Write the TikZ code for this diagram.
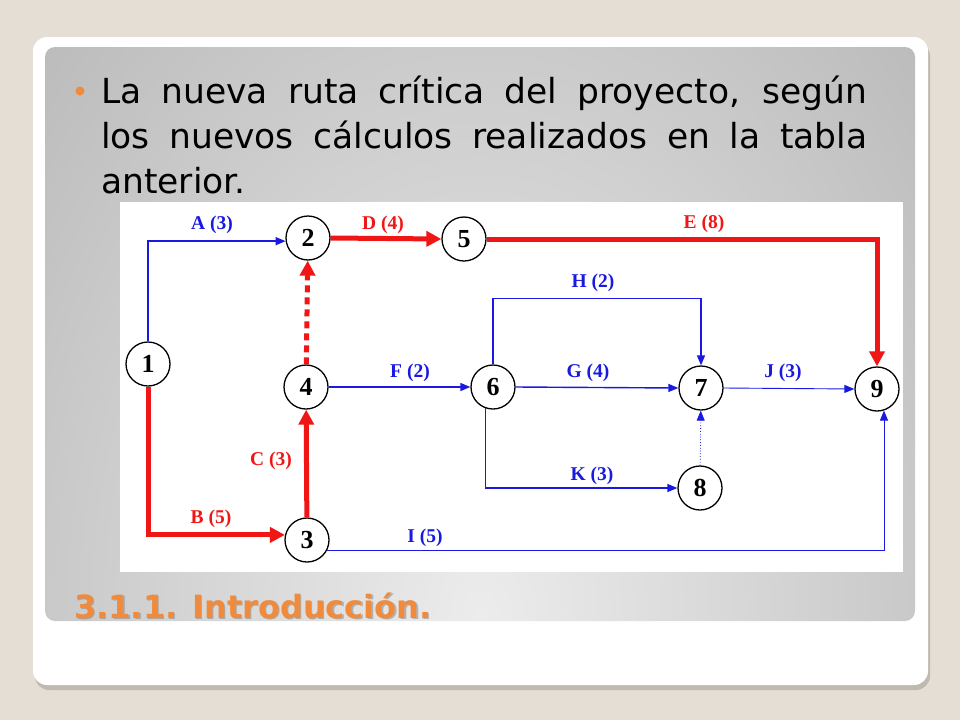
\documentclass[tikz,border=0pt]{standalone}
\usepackage{fontspec}
\setmainfont{Liberation Serif}
\newfontfamily\slidefont{DejaVu Sans}
\usepackage{tikz}
\usetikzlibrary{arrows.meta}
\usetikzlibrary{positioning}

\definecolor{slidebeige}{RGB}{229,222,212}
\definecolor{cardshadow}{RGB}{192,185,176}
\definecolor{panellight}{RGB}{236,236,236}
\definecolor{paneldark}{RGB}{155,155,155}
\definecolor{actblue}{RGB}{25,25,225}
\definecolor{critred}{RGB}{240,22,22}
\definecolor{headorange}{RGB}{240,138,60}

\begin{document}
\begin{tikzpicture}[x=1pt,y=-1pt]
  \tikzset{event/.style = {shape=circle,draw,line width=1.3pt,fill=white,minimum size=44pt,inner sep=0pt,font=\bfseries\fontsize{26}{26}\selectfont}}
  \tikzset{act/.style = {draw=actblue,line width=1.4pt,-{Triangle[length=10pt,width=8pt]}}}
  \tikzset{actthin/.style = {act,line width=0.9pt}}
  \tikzset{crit/.style = {draw=critred,line width=5pt,-{Triangle[length=15pt,width=15pt]}}}
  \tikzset{actlab/.style = {text=actblue,font=\bfseries\fontsize{19.5}{19.5}\selectfont}}
  \tikzset{critlab/.style = {text=critred,font=\bfseries\fontsize{19.5}{19.5}\selectfont}}
  \tikzset{bodytext/.style = {anchor=base west,inner sep=0pt,font=\slidefont\fontsize{34.5}{34.5}\selectfont}}

  % slide background
  \useasboundingbox (0,0) rectangle (960,720);
  \fill[slidebeige] (0,0) rectangle (960,720);
  \fill[cardshadow,rounded corners=14pt] (35,42) rectangle (930,690);
  \fill[white,rounded corners=14pt] (33,37) rectangle (928,685);
  \begin{scope}
    \clip[rounded corners=10pt] (45,47) rectangle (915,621);
    \shade[inner color=panellight,outer color=paneldark] (480,615) ellipse (1000 and 1400);
  \end{scope}

  % text
  \node[circle,fill=headorange,minimum size=9pt,inner sep=0pt] (bullet) at (80,91) {};
  \node[bodytext] (line1) at (101,103) {\makebox[766pt][s]{La nueva ruta crítica del proyecto, según}};
  \node[bodytext] (line2) at (101,148) {\makebox[766pt][s]{los nuevos cálculos realizados en la tabla}};
  \node[bodytext] (line3) at (101,193) {anterior.};

  \node[anchor=base west,inner sep=0pt,text=gray,opacity=0.5,font=\slidefont\bfseries\fontsize{32}{32}\selectfont] (headshadow) at (75.5,619.5) {3.1.1. Introducción.};
  \node[anchor=base west,inner sep=0pt,text=headorange,font=\slidefont\bfseries\fontsize{32}{32}\selectfont] (heading) at (74,618) {3.1.1. Introducción.};

  % network
  \fill[white] (120,202) rectangle (903,572);

	\node[event] (n1) at (148,364) {1};
	\node[event] (n2) at (308,238) {2};
	\node[event] (n5) at (464,239) {5};
	\node[event] (n4) at (306,387) {4};
	\node[event] (n3) at (307,540) {3};
	\node[event] (n6) at (493,387) {6};
	\node[event] (n7) at (701,388) {7};
	\node[event] (n9) at (877,389) {9};
	\node[event] (n8) at (700,488) {8};

    \draw[act] (n1.north) |- (n2.188);
    \draw[act] (n4.east) -- (n6.west);
    \draw[act] (n6.east) -- (n7.west);
    \draw[act] (n6.north) -- ++(0,-66) -| (n7.north);
    \draw[act] (n6.250) |- (n8.west);
    \draw[actthin] (n7.east) -- (n9.west);
    \draw[actthin] (n3.-27) -| (n9.-72);
    \draw[act,line width=0.8pt,dotted] (n8) -- (n7);

    \draw[crit] (n1.south) |- (n3.167);
    \draw[crit] (n3) -- (n4);
    \draw[crit,dash pattern=on 7pt off 5pt] (n4) -- (n2);
    \draw[crit] (n2.east) -- (n5.west);
    \draw[crit] (n5.east) -| (n9.north);

	\node[actlab] (labA) at (212,225) {A (3)};
	\node[critlab] (labB) at (211,519) {B (5)};
	\node[critlab] (labC) at (271,461) {C (3)};
	\node[critlab] (labD) at (383,225) {D (4)};
	\node[critlab] (labE) at (704,224) {E (8)};
	\node[actlab] (labF) at (410,373) {F (2)};
	\node[actlab] (labG) at (588,373) {G (4)};
	\node[actlab] (labH) at (593,283) {H (2)};
	\node[actlab] (labI) at (425,538) {I (5)};
	\node[actlab] (labJ) at (783,373) {J (3)};
	\node[actlab] (labK) at (592,476) {K (3)};

\end{tikzpicture}
\end{document}
